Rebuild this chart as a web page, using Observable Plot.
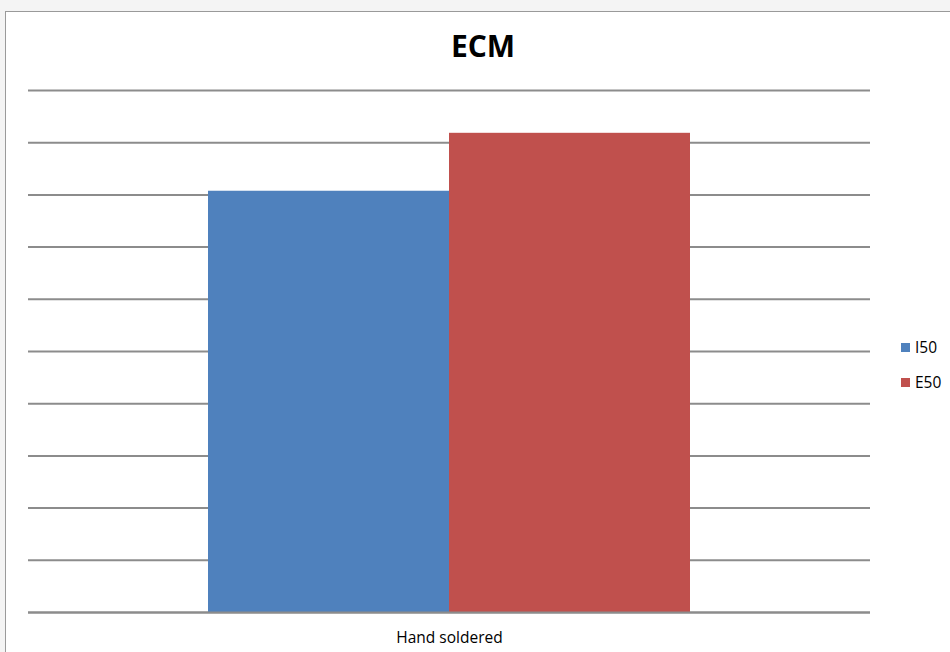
<!DOCTYPE html>
<html>
<head>
<meta charset="utf-8">
<script src="https://cdn.jsdelivr.net/npm/d3@7"></script>
<script src="https://cdn.jsdelivr.net/npm/@observablehq/plot@0.6"></script>
<style>
  html, body { margin: 0; padding: 0; width: 950px; height: 652px; overflow: hidden; background: #f4f4f4; }
  #frame { position: absolute; left: 5px; top: 11px; width: 1000px; height: 700px; background: #ffffff; border: 1px solid #9a9a9a; box-sizing: border-box; }
  #title { position: absolute; left: 0; width: 966px; top: 25px; text-align: center; font-family: "Open Sans", sans-serif; font-weight: bold; font-size: 30px; color: #000; }
  #chart { position: absolute; left: 0; top: 0; }
  .legend { position: absolute; left: 901px; font-family: "Open Sans", sans-serif; font-size: 15.5px; color: #000; display: flex; align-items: center; }
  .legend span.sw { display: inline-block; width: 9px; height: 9px; margin-right: 5px; }
</style>
</head>
<body>
<div id="frame"></div>
<div id="title">ECM</div>
<div id="chart"></div>
<div id="legend"></div>
<script>
const categories = ["Hand soldered"];
const series = ["I50", "E50"];
const values = [8.07, 9.18];
const gridTicks = [0, 1, 2, 3, 4, 5, 6, 7, 8, 9, 10];
const colors = ["#4f81bd", "#c0504d"];

const data = series.map((s, i) => ({category: categories[0], series: s, value: values[i]}));

const chart = Plot.plot({
  width: 950,
  height: 652,
  marginLeft: 28,
  marginRight: 80,
  marginTop: 90,
  marginBottom: 40,
  style: {background: "transparent", fontFamily: "'Open Sans', sans-serif", fontSize: "15.5px", color: "#000"},
  fx: {domain: categories, padding: 0, label: null, axis: "bottom", tickSize: 0, tickPadding: 19},
  x: {domain: series, axis: null, paddingInner: 0, paddingOuter: 0.74},
  y: {domain: [0, 10], axis: null},
  color: {domain: series, range: colors},
  marks: [
    Plot.ruleY(gridTicks, {y: d => d, stroke: "#8c8c8c", strokeWidth: 2, strokeOpacity: 1}),
    Plot.barY(data, {fx: "category", x: "series", y: "value", fill: "series"}),
    Plot.ruleY([0], {stroke: "#8c8c8c", strokeWidth: 2})
  ]
});
document.getElementById("chart").appendChild(chart);

const legend = document.getElementById("legend");
series.forEach((s, i) => {
  const div = document.createElement("div");
  div.className = "legend";
  div.style.top = (336 + i * 35) + "px";
  div.innerHTML = `<span class="sw" style="background:${colors[i]}"></span>${s}`;
  legend.appendChild(div);
});
</script>
</body>
</html>
